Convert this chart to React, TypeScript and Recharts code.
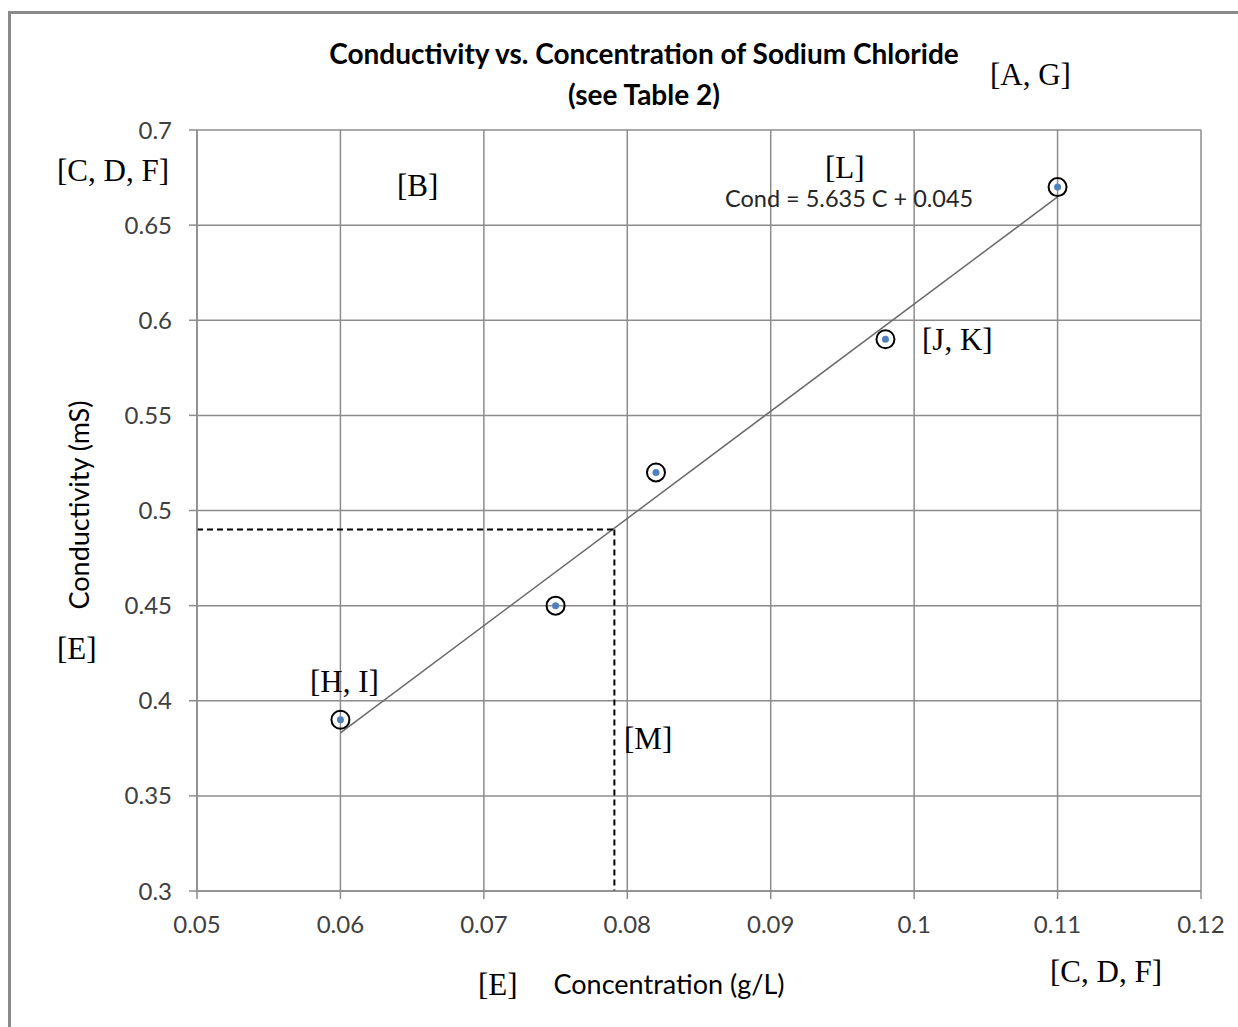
import React from 'react';
import { ScatterChart, Scatter, XAxis, YAxis, CartesianGrid, ReferenceLine } from 'recharts';

const concentration = [0.06, 0.075, 0.082, 0.098, 0.11];
const conductivity = [0.39, 0.45, 0.52, 0.59, 0.67];
const xTicks = [0.05, 0.06, 0.07, 0.08, 0.09, 0.1, 0.11, 0.12];
const yTicks = [0.3, 0.35, 0.4, 0.45, 0.5, 0.55, 0.6, 0.65, 0.7];
const slope = 5.635;
const intercept = 0.045;
const trendRange = [0.06, 0.11];
const readCond = 0.49;
const readConc = 0.0791;

const points = concentration.map((x, i) => ({ x, y: conductivity[i] }));
const trendSeg = trendRange.map((x) => ({ x, y: slope * x + intercept }));

const CALIBRI = 'Lato, "Open Sans", sans-serif';
const SERIF = '"Liberation Serif", "Times New Roman", serif';

const Marker = (props: any) => {
  const { cx, cy } = props;
  if (cx == null || cy == null) return <g />;
  return (
    <g>
      <circle cx={cx} cy={cy} r={9} fill="none" stroke="#000" strokeWidth={2} />
      <circle cx={cx} cy={cy} r={3.5} fill="#4F81BD" />
    </g>
  );
};

const Tag = ({ x, y, children, size = 31, font = SERIF, color = '#000', weight = 400 }: any) => (
  <div
    style={{
      position: 'absolute',
      left: x,
      top: y,
      fontFamily: font,
      fontSize: size,
      color,
      fontWeight: weight,
      lineHeight: 1,
      whiteSpace: 'nowrap',
    }}
  >
    {children}
  </div>
);

export default function App() {
  return (
    <div
      style={{
        position: 'absolute',
        left: 0,
        top: 0,
        width: 1238,
        height: 1027,
        background: '#fff',
        overflow: 'hidden',
      }}
    >
      <div
        style={{
          position: 'absolute',
          left: 8,
          top: 11,
          width: 1230,
          height: 1016,
          borderLeft: '3px solid #8a8a8a',
          borderTop: '3px solid #8a8a8a',
          boxSizing: 'border-box',
        }}
      />
      <div style={{ position: 'absolute', left: 0, top: 0 }}>
        <ScatterChart width={1238} height={1027} margin={{ top: 130, right: 37, bottom: 96, left: 137 }}>
          <CartesianGrid stroke="#8c8c8c" strokeWidth={1.5} />
          <XAxis
            type="number"
            dataKey="x"
            domain={[0.05, 0.12]}
            ticks={xTicks}
            interval={0}
            height={40}
            stroke="#8c8c8c"
            strokeWidth={1.5}
            tickSize={8}
            tick={{ fill: '#404040', fontSize: 24, fontFamily: CALIBRI }}
            tickMargin={17}
          />
          <YAxis
            type="number"
            dataKey="y"
            domain={[0.3, 0.7]}
            ticks={yTicks}
            interval={0}
            width={60}
            stroke="#8c8c8c"
            strokeWidth={1.5}
            tickSize={8}
            tick={{ fill: '#404040', fontSize: 24, fontFamily: CALIBRI }}
            tickMargin={17}
          />
          <ReferenceLine segment={trendSeg} stroke="#6a6a6a" strokeWidth={1.5} />
          <ReferenceLine
            segment={[{ x: 0.05, y: readCond }, { x: readConc, y: readCond }]}
            stroke="#000"
            strokeWidth={2}
            strokeDasharray="6 4"
          />
          <ReferenceLine
            segment={[{ x: readConc, y: readCond }, { x: readConc, y: 0.3 }]}
            stroke="#000"
            strokeWidth={2}
            strokeDasharray="6 4"
          />
          <Scatter data={points} shape={Marker} isAnimationActive={false} />
        </ScatterChart>
      </div>

      <div
        style={{
          position: 'absolute',
          left: 0,
          top: 33,
          width: 1288,
          textAlign: 'center',
          fontFamily: CALIBRI,
          fontWeight: 700,
          fontSize: 28,
          lineHeight: '41px',
          color: '#000',
        }}
      >
        Conductivity vs. Concentration of Sodium Chloride
        <br />
        (see Table 2)
      </div>

      <div
        style={{
          position: 'absolute',
          left: 78,
          top: 505,
          transform: 'translate(-50%, -50%) rotate(-90deg)',
          fontFamily: CALIBRI,
          fontSize: 27,
          color: '#000',
          whiteSpace: 'nowrap',
        }}
      >
        Conductivity (mS)
      </div>
      <div
        style={{
          position: 'absolute',
          left: 669,
          top: 983,
          transform: 'translate(-50%, -50%)',
          fontFamily: CALIBRI,
          fontSize: 27,
          color: '#000',
          whiteSpace: 'nowrap',
        }}
      >
        Concentration (g/L)
      </div>

      <Tag x={725} y={187} size={23.5} font={CALIBRI} color="#262626">Cond = 5.635 C + 0.045</Tag>

      <Tag x={990} y={59}>[A, G]</Tag>
      <Tag x={57} y={155}>[C, D, F]</Tag>
      <Tag x={397} y={170}>[B]</Tag>
      <Tag x={825} y={152}>[L]</Tag>
      <Tag x={922} y={324}>[J, K]</Tag>
      <Tag x={57} y={633}>[E]</Tag>
      <Tag x={310} y={666}>[H, I]</Tag>
      <Tag x={624} y={723}>[M]</Tag>
      <Tag x={478} y={969}>[E]</Tag>
      <Tag x={1050} y={956}>[C, D, F]</Tag>
    </div>
  );
}
